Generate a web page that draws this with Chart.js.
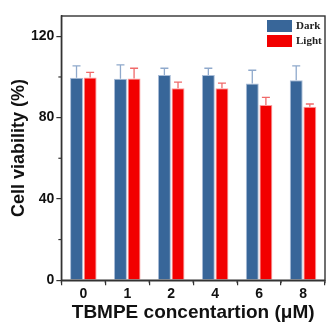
<!DOCTYPE html>
<html>
<head>
<meta charset="utf-8">
<script src="https://cdn.jsdelivr.net/npm/chart.js@4/dist/chart.umd.min.js"></script>
<style>
  html, body { margin: 0; padding: 0; background: #fff; }
  #wrap { width: 327px; height: 322px; }
</style>
</head>
<body>
<div id="wrap"><canvas id="chart" width="327" height="322"></canvas></div>
<script>
const categories = ["0", "1", "2", "4", "6", "8"];
const darkValues = [99.6, 99.1, 101, 101, 96.8, 98.4];
const darkErrors = [5.9, 6.9, 3.3, 3.3, 6.5, 7.1];
const lightValues = [99.8, 99.3, 94.4, 94.4, 86.2, 85.3];
const lightErrors = [2.5, 5.0, 3.1, 2.6, 3.8, 1.4];
const yTicks = [0, 40, 80, 120];

const FONT = "'Liberation Sans', Arial, sans-serif";

// upper error bars, minor ticks, frame and legend
const extras = {
  id: "extras",
  afterDatasetsDraw(chart) {
    const ctx = chart.ctx;
    const y = chart.scales.y;
    const area = chart.chartArea;
    const errs = [darkErrors, lightErrors];
    const errColors = ["#8fa9cc", "#f06a6a"];

    chart.data.datasets.forEach((ds, i) => {
      const meta = chart.getDatasetMeta(i);
      meta.data.forEach((bar, j) => {
        const top = y.getPixelForValue(ds.data[j]);
        const end = y.getPixelForValue(ds.data[j] + errs[i][j]);
        ctx.save();
        ctx.strokeStyle = errColors[i];
        ctx.lineWidth = 1.3;
        ctx.beginPath();
        ctx.moveTo(bar.x, top);
        ctx.lineTo(bar.x, end);
        ctx.moveTo(bar.x - 4, end);
        ctx.lineTo(bar.x + 4, end);
        ctx.stroke();
        ctx.restore();
      });
    });

    ctx.save();
    ctx.strokeStyle = "#333";
    ctx.lineWidth = 1.2;
    // minor y ticks
    [20, 60, 100].forEach(v => {
      const py = y.getPixelForValue(v);
      ctx.beginPath();
      ctx.moveTo(area.left - 3, py);
      ctx.lineTo(area.left, py);
      ctx.stroke();
    });
    // minor x ticks between categories
    const x = chart.scales.x;
    for (let k = 0; k <= categories.length; k++) {
      const px = x.getPixelForValue(k - 0.5);
      ctx.beginPath();
      ctx.moveTo(px, area.bottom);
      ctx.lineTo(px, area.bottom + 3);
      ctx.stroke();
    }
    // frame
    ctx.lineWidth = 1.4;
    ctx.strokeRect(area.left, area.top, area.right - area.left, area.bottom - area.top);
    ctx.restore();

    // legend
    ctx.save();
    const lx = 267, ly = 20;
    chart.data.datasets.forEach((ds, i) => {
      const by = ly + i * 15;
      ctx.fillStyle = ds.backgroundColor;
      ctx.fillRect(lx, by, 25, 12);
      ctx.fillStyle = "#222";
      ctx.font = "bold 11px 'Liberation Serif', 'Times New Roman', serif";
      ctx.textBaseline = "middle";
      ctx.fillText(ds.label, lx + 29, by + 6.5);
    });
    ctx.restore();
  }
};

new Chart(document.getElementById("chart"), {
  type: "bar",
  data: {
    labels: categories,
    datasets: [
      {
        label: "Dark",
        data: darkValues,
        backgroundColor: "#386699",
        borderColor: "#a9bdd8",
        borderWidth: { left: 1, right: 1, top: 1, bottom: 0 },
        barPercentage: 0.95,
        categoryPercentage: 0.62
      },
      {
        label: "Light",
        data: lightValues,
        backgroundColor: "#f20000",
        borderColor: "#f7a0a0",
        borderWidth: { left: 1, right: 1, top: 1, bottom: 0 },
        barPercentage: 0.95,
        categoryPercentage: 0.62
      }
    ]
  },
  options: {
    responsive: false,
    animation: false,
    layout: { padding: { top: 16, right: 2, left: 10, bottom: 0 } },
    plugins: {
      legend: { display: false },
      tooltip: { enabled: false }
    },
    scales: {
      x: {
        grid: { display: true, drawOnChartArea: false, drawTicks: true, tickLength: 5, color: "#333", lineWidth: 1.2 },
        border: { display: true, color: "#333", width: 1.4 },
        ticks: { color: "#111", font: { family: FONT, size: 14, weight: "bold" }, padding: 1 },
        title: {
          display: true,
          text: "TBMPE concentartion (μM)",
          color: "#111",
          font: { family: FONT, size: 19, weight: "bold", lineHeight: 1.0 },
          padding: { top: -1, bottom: 0 }
        }
      },
      y: {
        min: 0,
        max: 130,
        afterBuildTicks: (axis) => { axis.ticks = yTicks.map(v => ({ value: v })); },
        grid: { display: true, drawOnChartArea: false, drawTicks: true, tickLength: 5, color: "#333", lineWidth: 1.2 },
        border: { display: true, color: "#333", width: 1.4 },
        ticks: { color: "#111", font: { family: FONT, size: 14, weight: "bold" }, padding: 2 },
        title: {
          display: true,
          text: "Cell viability (%)",
          color: "#111",
          font: { family: FONT, size: 18, weight: "bold", lineHeight: 1.0 },
          padding: { top: 0, bottom: 1 }
        }
      }
    }
  },
  plugins: [extras]
});
</script>
</body>
</html>
